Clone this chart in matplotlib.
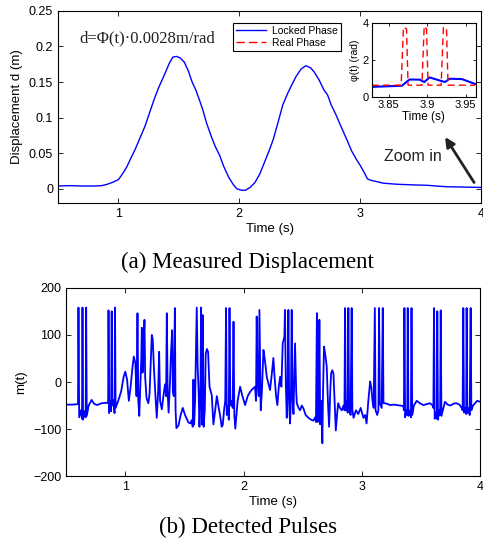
import matplotlib
matplotlib.use('Agg')
import matplotlib.pyplot as plt

plt.rcParams['font.family'] = ['Liberation Sans', 'DejaVu Sans']

# displacement curve (top panel)
t_disp = [0.5, 0.6, 0.7, 0.8, 0.86, 0.90, 0.95, 1.0, 1.03, 1.07, 1.10, 1.14, 1.18, 1.22,
          1.26, 1.29, 1.33, 1.38, 1.42, 1.45, 1.48, 1.51, 1.545, 1.58, 1.61, 1.64, 1.67,
          1.70, 1.73, 1.77, 1.80, 1.84, 1.87, 1.91, 1.95, 1.98, 2.02, 2.05, 2.09, 2.13,
          2.17, 2.21, 2.25, 2.28, 2.32, 2.36, 2.40, 2.44, 2.47, 2.51, 2.55, 2.59, 2.62,
          2.66, 2.70, 2.73, 2.76, 2.80, 2.84, 2.89, 2.93, 2.97, 3.00, 3.03, 3.06, 3.09,
          3.14, 3.19, 3.30, 3.43, 3.55, 3.71, 3.85, 4.0]
d_disp = [0.004, 0.0045, 0.004, 0.004, 0.0045, 0.006, 0.009, 0.013, 0.020, 0.031, 0.042,
          0.056, 0.072, 0.088, 0.108, 0.123, 0.141, 0.160, 0.176, 0.185, 0.186, 0.184,
          0.178, 0.165, 0.150, 0.139, 0.125, 0.110, 0.092, 0.073, 0.060, 0.046, 0.032,
          0.017, 0.006, 0.0, -0.002, -0.002, 0.002, 0.009, 0.021, 0.038, 0.055, 0.069,
          0.093, 0.118, 0.134, 0.148, 0.158, 0.168, 0.173, 0.170, 0.164, 0.153, 0.139,
          0.132, 0.118, 0.104, 0.088, 0.069, 0.053, 0.041, 0.033, 0.024, 0.014, 0.012,
          0.010, 0.008, 0.0065, 0.0056, 0.005, 0.003, 0.0025, 0.002]

# inset: locked vs real phase
t_locked = [3.828, 3.867, 3.877, 3.890, 3.896, 3.903, 3.923, 3.929, 3.945, 3.962]
phi_locked = [0.56, 0.62, 0.96, 0.95, 0.82, 1.07, 0.82, 1.0, 0.98, 0.72]
t_real = [3.828, 3.866, 3.869, 3.873, 3.875, 3.893, 3.896, 3.899, 3.901, 3.918,
          3.921, 3.925, 3.927, 3.962]
phi_real = [0.65, 0.65, 3.8, 3.7, 0.65, 0.65, 3.85, 3.7, 0.65, 0.65, 3.8, 3.7, 0.65, 0.65]

# detected pulses (bottom panel)
t_pulse = [0.50, 0.55, 0.600, 0.604, 0.610, 0.625, 0.634, 0.638, 0.643, 0.655, 0.665, 0.669,
           0.674, 0.690, 0.715, 0.735, 0.760, 0.800, 0.850, 0.855, 0.858, 0.863, 0.872, 0.880,
           0.885, 0.890, 0.900, 0.909, 0.913, 0.918, 0.940, 0.965, 0.985, 1.000, 1.015, 1.030,
           1.045, 1.060, 1.072, 1.085, 1.095, 1.103, 1.110, 1.118, 1.128, 1.135, 1.140, 1.146,
           1.152, 1.162, 1.168, 1.180, 1.195, 1.205, 1.215, 1.224, 1.232, 1.242, 1.255, 1.266,
           1.278, 1.286, 1.294, 1.309, 1.322, 1.336, 1.345, 1.351, 1.358, 1.366, 1.378, 1.385,
           1.396, 1.402, 1.410, 1.419, 1.425, 1.432, 1.450, 1.468, 1.486, 1.505, 1.534, 1.550,
           1.562, 1.570, 1.576, 1.582, 1.590, 1.604, 1.612, 1.620, 1.627, 1.635, 1.641, 1.648,
           1.655, 1.662, 1.672, 1.680, 1.690, 1.700, 1.712, 1.731, 1.745, 1.760, 1.774, 1.790,
           1.802, 1.815, 1.824, 1.835, 1.845, 1.852, 1.858, 1.870, 1.875, 1.881, 1.888, 1.900,
           1.908, 1.915, 1.922, 1.930, 1.950, 1.971, 1.990, 2.013, 2.035, 2.055, 2.075, 2.097,
           2.105, 2.111, 2.118, 2.128, 2.134, 2.145, 2.155, 2.168, 2.180, 2.196, 2.210, 2.224,
           2.240, 2.252, 2.262, 2.275, 2.286, 2.298, 2.309, 2.320, 2.331, 2.345, 2.350, 2.357,
           2.365, 2.372, 2.379, 2.386, 2.393, 2.400, 2.407, 2.414, 2.422, 2.435, 2.445, 2.450,
           2.465, 2.478, 2.492, 2.506, 2.525, 2.548, 2.570, 2.590, 2.605, 2.612, 2.620, 2.627,
           2.634, 2.641, 2.648, 2.658, 2.666, 2.672, 2.680, 2.690, 2.703, 2.713, 2.723, 2.733,
           2.740, 2.750, 2.760, 2.770, 2.780, 2.790, 2.800, 2.815, 2.830, 2.845, 2.853, 2.858,
           2.864, 2.872, 2.880, 2.886, 2.892, 2.905, 2.914, 2.920, 2.930, 2.950, 2.970, 2.990,
           3.013, 3.028, 3.040, 3.055, 3.070, 3.080, 3.090, 3.100, 3.110, 3.116, 3.130, 3.140,
           3.146, 3.152, 3.168, 3.177, 3.183, 3.196, 3.220, 3.240, 3.270, 3.295, 3.320, 3.350,
           3.356, 3.360, 3.366, 3.378, 3.384, 3.388, 3.394, 3.408, 3.415, 3.420, 3.426, 3.440,
           3.464, 3.490, 3.520, 3.550, 3.577, 3.600, 3.605, 3.610, 3.616, 3.628, 3.634, 3.638,
           3.644, 3.656, 3.662, 3.667, 3.673, 3.690, 3.703, 3.725, 3.750, 3.775, 3.800, 3.825,
           3.845, 3.852, 3.858, 3.864, 3.876, 3.882, 3.886, 3.892, 3.905, 3.912, 3.920, 3.926,
           3.940, 3.957, 3.975, 4.000]
m_pulse = [-48, -48, -47, 158, -75, -60, -78, 158, -80, -62, -75, 158,
           -72, -50, -38, -46, -49, -45, -44, -45, 152, -66, -40, -62,
           150, -50, -38, -66, 158, -55, -40, -20, 10, 22, 5, -40,
           -10, 30, 54, 40, -30, 146, -40, -72, 0, 48, 115, 20,
           50, 132, 10, -35, -45, -25, 40, 100, 90, 30, -30, -76,
           -20, 64, -40, -58, -30, -5, -30, 146, -20, -65, 0, 55,
           110, -20, -30, 157, -60, -98, -92, -70, -55, -70, -86, -88,
           -81, -95, 5, -90, -40, 158, 30, -20, -95, -30, 158, -90,
           142, -95, -60, 60, 70, 64, -10, -28, -90, -60, -30, -55,
           -72, -95, -91, -60, -40, 157, -70, -50, -80, 157, -50, -40,
           -55, 128, -70, -99, -40, -10, -30, -49, -30, -21, -15, -10,
           -40, 139, 4, -30, 153, -60, -20, 68, 47, 11, -3, -17,
           20, 51, 11, -30, -49, -10, 11, -10, 82, 96, 153, 0,
           -76, -20, 153, -50, -88, -40, 153, -30, -68, 82, -20, -45,
           -55, -60, -50, -56, -70, -76, -80, -82, -75, -85, 146, -85,
           -70, 132, -90, -40, -130, -20, 75, 60, 33, -40, -95, -20,
           18, 25, 18, -40, -103, -70, -45, -55, -60, -50, -60, 157,
           -60, -40, -65, 157, -55, -70, 157, -60, -76, -60, -68, -55,
           -76, -70, -88, -40, 1, -10, -40, -55, 157, -60, -70, -60,
           157, -45, -55, 157, -45, -45, -47, -49, -48, -49, -50, -51,
           -60, 157, -75, -60, -70, 157, -72, -60, -75, 157, -70, -50,
           -40, -45, -49, -47, -45, -50, -55, 157, -78, -65, -78, 150,
           -80, -60, -70, 152, -72, -55, -42, -48, -50, -46, -45, -48,
           -55, -60, 157, -65, -55, -68, 157, -66, -55, -70, 157, -60,
           -50, -45, -40, -42]

disp_yticks = [0, 0.05, 0.1, 0.15, 0.2, 0.25]
disp_yticklabels = ['0', '0.05', '0.1', '0.15', '0.2', '0.25']

fig = plt.figure(figsize=(4.83, 5.43), dpi=100)


def style(ax, size=9):
    ax.tick_params(direction='in', top=True, right=True, length=3.5, width=0.6,
                   labelsize=size)
    for s in ax.spines.values():
        s.set_linewidth(0.8)


# top panel
ax1 = fig.add_axes([0.120, 0.626, 0.876, 0.354])
ax1.plot(t_disp, d_disp, color='blue', lw=1.0, label='Locked Phase')
ax1.plot([], [], color='red', lw=1.0, ls=(0, (6, 3)), label='Real Phase')
ax1.set_xlim(0.5, 4)
ax1.set_ylim(-0.02, 0.25)
ax1.set_xticks([1, 2, 3, 4])
ax1.set_yticks(disp_yticks)
ax1.set_yticklabels(disp_yticklabels)
ax1.set_xlabel('Time (s)', fontsize=9.5, labelpad=2)
ax1.set_ylabel('Displacement d (m)', fontsize=9.5, labelpad=4)
style(ax1)
ax1.text(0.68, 0.212, 'd=Φ(t)·0.0028m/rad', family='Liberation Serif', fontsize=12,
         va='center', ha='left', color='#222222')
leg = ax1.legend(loc='upper left', bbox_to_anchor=(0.414, 0.9375), borderaxespad=0,
                 fontsize=7.5, handlelength=2.9, fancybox=False, edgecolor='black',
                 framealpha=1, borderpad=0.3, labelspacing=0.2, handletextpad=0.5)
leg.get_frame().set_linewidth(0.8)
ax1.annotate('', xy=(3.69, 0.076), xytext=(3.955, 0.0056),
             arrowprops=dict(arrowstyle='-|>', color='#222222', lw=2, mutation_scale=14))
ax1.text(3.44, 0.046, 'Zoom in', fontsize=11.5, ha='center', va='center', color='#222222')

# inset
axi = fig.add_axes([0.770, 0.821, 0.215, 0.136])
axi.plot(t_locked, phi_locked, color='blue', lw=1.5)
axi.plot(t_real, phi_real, color='red', lw=1.0, ls=(0, (5, 3)))
axi.set_xlim(3.828, 3.963)
axi.set_ylim(0, 4)
axi.set_xticks([3.85, 3.9, 3.95])
axi.set_xticklabels(['3.85', '3.9', '3.95'])
axi.set_yticks([0, 2, 4])
axi.set_xlabel('Time (s)', fontsize=8.5, labelpad=1)
axi.set_ylabel('φ(t) (rad)', fontsize=7.5, labelpad=2)
style(axi, 8)
axi.tick_params(length=2.5, pad=2)

# bottom panel
ax2 = fig.add_axes([0.137, 0.123, 0.857, 0.347])
ax2.plot(t_pulse, m_pulse, color='blue', lw=1.3)
ax2.set_xlim(0.5, 4)
ax2.set_ylim(-200, 200)
ax2.set_xticks([1, 2, 3, 4])
ax2.set_yticks([-200, -100, 0, 100, 200])
ax2.set_xlabel('Time (s)', fontsize=9.5, labelpad=2)
ax2.set_ylabel('m(t)', fontsize=9.5, labelpad=4)
style(ax2)

# captions
fig.text(0.513, 0.517, '(a) Measured Displacement', family='Liberation Serif',
         fontsize=16.5, ha='center', va='center')
fig.text(0.513, 0.029, '(b) Detected Pulses', family='Liberation Serif',
         fontsize=16.5, ha='center', va='center')

fig.savefig('out.png', dpi=100)
